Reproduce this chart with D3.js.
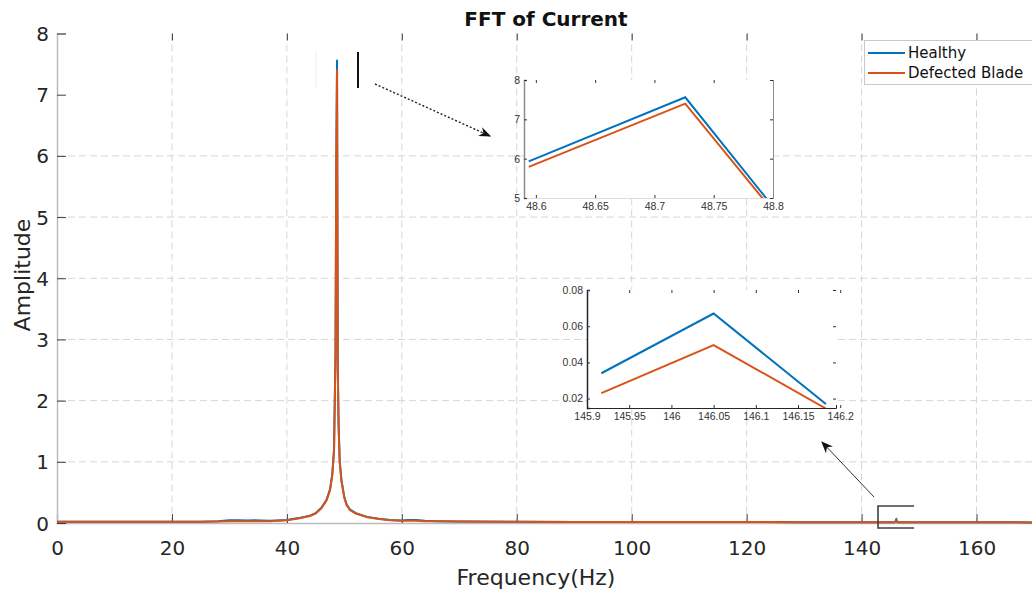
<!DOCTYPE html>
<html>
<head>
<meta charset="utf-8">
<script src="https://cdn.jsdelivr.net/npm/d3@7"></script>
<style>
  body { margin: 0; background: #fff; }
  svg { display: block; }
</style>
</head>
<body>
<svg id="chart" width="1032" height="597"></svg>
<script>
// spectrum samples (Hz) and amplitudes
const freq = [0, 5, 10, 15, 20, 25, 28, 30, 31.5, 33, 34.5, 35.5, 37, 40, 42, 44, 45, 46, 46.9, 47.5,
  47.9, 48.2, 48.461, 48.594, 48.726, 48.859, 49.0, 49.2, 49.5, 50.0, 50.4, 51, 52, 54, 56, 58, 60, 61, 62.5, 64,
  66, 70, 80, 90, 100, 110, 120, 130, 140, 145.785, 145.917, 146.05, 146.183, 146.316, 150, 160, 170];
const healthy = [0.02, 0.02, 0.02, 0.02, 0.02, 0.022, 0.028, 0.045, 0.045, 0.042, 0.045, 0.04, 0.035, 0.05, 0.08, 0.12, 0.16, 0.25, 0.38, 0.55,
  0.8, 1.2, 2.8, 5.93, 7.56, 2.56, 1.6, 1.0, 0.7, 0.42, 0.3, 0.22, 0.16, 0.1, 0.07, 0.05, 0.04, 0.05, 0.05, 0.035,
  0.03, 0.025, 0.02, 0.018, 0.016, 0.015, 0.015, 0.014, 0.014, 0.013, 0.034, 0.067, 0.017, 0.012, 0.012, 0.011, 0.01];
const defected = [0.02, 0.02, 0.02, 0.02, 0.02, 0.022, 0.025, 0.028, 0.03, 0.03, 0.03, 0.03, 0.03, 0.045, 0.075, 0.115, 0.155, 0.24, 0.37, 0.53,
  0.78, 1.17, 2.74, 5.79, 7.40, 2.49, 1.56, 0.98, 0.68, 0.41, 0.29, 0.21, 0.155, 0.095, 0.065, 0.045, 0.035, 0.035, 0.035, 0.03,
  0.028, 0.024, 0.02, 0.018, 0.016, 0.015, 0.015, 0.014, 0.014, 0.013, 0.023, 0.0496, 0.0145, 0.011, 0.011, 0.011, 0.01];

const seriesNames = ["Healthy", "Defected Blade"];
const seriesColors = ["#0072BD", "#D95319"];

const xTicks = [0, 20, 40, 60, 80, 100, 120, 140, 160];
const yTicks = [0, 1, 2, 3, 4, 5, 6, 7, 8];
const yGrid = [1, 2, 3, 4, 5, 6];

// zoom insets
const zoom1XTicks = [48.6, 48.65, 48.7, 48.75, 48.8];
const zoom1YTicks = [5, 6, 7, 8];
const zoom2XTicks = [145.9, 145.95, 146, 146.05, 146.1, 146.15, 146.2];
const zoom2YTicks = [0.02, 0.04, 0.06, 0.08];

const svg = d3.select('#chart');
const FONT = "'DejaVu Sans', sans-serif";

const x = d3.scaleLinear().domain([0, 170]).range([57, 1034]);
const y = d3.scaleLinear().domain([0, 8]).range([523, 33.5]);

const healthyPts = freq.map((f, i) => [f, healthy[i]]);
const defectedPts = freq.map((f, i) => [f, defected[i]]);

// grid
svg.append('g').selectAll('line').data(xTicks.filter(d => d > 0)).join('line')
  .attr('x1', d => x(d)).attr('x2', d => x(d))
  .attr('y1', y(8)).attr('y2', y(0))
  .attr('stroke', '#d6d6d6').attr('stroke-dasharray', '7,4');
svg.append('g').selectAll('line').data(yGrid).join('line')
  .attr('x1', x(0)).attr('x2', 1032)
  .attr('y1', d => y(d)).attr('y2', d => y(d))
  .attr('stroke', '#d6d6d6').attr('stroke-dasharray', '7,4');

// axes
const xAxis = svg.append('g').attr('transform', `translate(0,${y(0)})`)
  .call(d3.axisBottom(x).tickValues(xTicks).tickSize(-9).tickFormat(d3.format('d')));
xAxis.select('.domain').attr('stroke', '#bdbdbd').attr('stroke-width', 1.5);
xAxis.selectAll('.tick line').attr('stroke', '#404040');
xAxis.selectAll('.tick text').attr('y', 25).attr('dy', '0.35em')
  .attr('font-family', FONT).attr('font-size', 20).attr('fill', '#262626');

const xTop = svg.append('g').attr('transform', `translate(0,${y(8)})`)
  .call(d3.axisTop(x).tickValues(xTicks).tickSize(-7).tickFormat(''));
xTop.select('.domain').remove();
xTop.selectAll('.tick line').attr('stroke', '#404040');

const yAxis = svg.append('g').attr('transform', `translate(${x(0)},0)`)
  .call(d3.axisLeft(y).tickValues(yTicks).tickSize(-9));
yAxis.select('.domain').attr('stroke', '#bdbdbd').attr('stroke-width', 1.5);
yAxis.selectAll('.tick line').attr('stroke', '#404040');
yAxis.selectAll('.tick text').attr('x', -8).attr('dy', '0.35em')
  .attr('font-family', FONT).attr('font-size', 20).attr('fill', '#262626');

// main curves
const line = d3.line().x(d => x(d[0])).y(d => y(d[1]));
[healthyPts, defectedPts].forEach((pts, i) => {
  svg.append('path').datum(pts)
    .attr('d', line)
    .attr('fill', 'none')
    .attr('stroke', seriesColors[i])
    .attr('stroke-width', 2)
    .attr('stroke-linejoin', 'round');
});

// titles
svg.append('text').attr('x', 546).attr('y', 26).attr('text-anchor', 'middle')
  .attr('font-family', FONT).attr('font-weight', 'bold').attr('font-size', 20)
  .attr('fill', '#111').text('FFT of Current');
svg.append('text').attr('x', 536).attr('y', 585).attr('text-anchor', 'middle')
  .attr('font-family', FONT).attr('font-size', 22).attr('fill', '#262626').text('Frequency(Hz)');
svg.append('text').attr('transform', 'translate(30,275) rotate(-90)').attr('text-anchor', 'middle')
  .attr('font-family', FONT).attr('font-size', 22).attr('fill', '#262626').text('Amplitude');

// legend
const leg = svg.append('g');
leg.append('rect').attr('x', 864.5).attr('y', 40.5).attr('width', 170).attr('height', 44)
  .attr('fill', '#fff').attr('stroke', '#c8c8c8');
seriesNames.forEach((name, i) => {
  const ly = 53 + i * 20;
  leg.append('line').attr('x1', 868).attr('x2', 905).attr('y1', ly).attr('y2', ly)
    .attr('stroke', seriesColors[i]).attr('stroke-width', 2);
  leg.append('text').attr('x', 908).attr('y', ly).attr('dy', '0.35em')
    .attr('font-family', FONT).attr('font-size', 15).attr('fill', '#111').text(name);
});

// arrow markers
const defs = svg.append('defs');
defs.append('marker').attr('id', 'arrow').attr('viewBox', '0 0 10 10')
  .attr('refX', 9).attr('refY', 5).attr('markerWidth', 12).attr('markerHeight', 12)
  .attr('markerUnits', 'userSpaceOnUse').attr('orient', 'auto')
  .append('path').attr('d', 'M0,1 L10,5 L0,9 L3,5 Z').attr('fill', '#111');

// inset builder
function inset(id, box, xDom, yDom, xt, yt, fmtX, fmtY, opts) {
  const ix = d3.scaleLinear().domain(xDom).range([box.x0, box.x1]);
  const iy = d3.scaleLinear().domain(yDom).range([box.y1, box.y0]);
  const g = svg.append('g');
  g.append('rect').attr('x', box.x0).attr('y', box.y0)
    .attr('width', box.x1 - box.x0).attr('height', box.y1 - box.y0).attr('fill', '#fff');
  defs.append('clipPath').attr('id', id).append('rect')
    .attr('x', box.x0).attr('y', box.y0).attr('width', box.x1 - box.x0).attr('height', box.y1 - box.y0);

  const bx = g.append('g').attr('transform', `translate(0,${box.y1})`)
    .call(d3.axisBottom(ix).tickValues(xt).tickSize(-3).tickPadding(5).tickFormat(fmtX));
  const tx = g.append('g').attr('transform', `translate(0,${box.y0})`)
    .call(d3.axisTop(ix).tickValues(xt).tickSize(-3).tickFormat(''));
  const ly = g.append('g').attr('transform', `translate(${box.x0},0)`)
    .call(d3.axisLeft(iy).tickValues(yt).tickSize(-3).tickPadding(4).tickFormat(fmtY));
  const ry = g.append('g').attr('transform', `translate(${box.x1},0)`)
    .call(d3.axisRight(iy).tickValues(yt).tickSize(-3).tickFormat(''));
  [bx, tx, ly, ry].forEach(a => {
    a.selectAll('.tick line').attr('stroke', '#333');
    a.selectAll('.tick text').attr('font-family', "'Liberation Sans', Arial, sans-serif")
      .attr('font-size', 10.5).attr('fill', '#333');
  });
  bx.select('.domain').attr('stroke', opts.bottom);
  ly.select('.domain').attr('stroke', opts.left).attr('stroke-width', 1.5);
  tx.select('.domain').attr('stroke', opts.top);
  ry.select('.domain').attr('stroke', opts.right);

  const il = d3.line().x(d => ix(d[0])).y(d => iy(d[1]));
  [healthyPts, defectedPts].forEach((pts, i) => {
    g.append('path').datum(pts.filter(d => d[0] >= opts.from && d[0] <= opts.to))
      .attr('clip-path', `url(#${id})`)
      .attr('d', il).attr('fill', 'none')
      .attr('stroke', seriesColors[i]).attr('stroke-width', 2);
  });
}

inset('clip1', {x0: 524, x1: 773, y0: 80, y1: 198}, [48.59, 48.8], [5, 8],
  zoom1XTicks, zoom1YTicks, d3.format(''), d3.format('d'),
  {bottom: '#dddddd', left: '#8c8c8c', top: 'none', right: '#8c8c8c', from: 48.59, to: 48.9});
inset('clip2', {x0: 587, x1: 836, y0: 290, y1: 408}, [145.9, 146.195], [0.0148, 0.08],
  zoom2XTicks, zoom2YTicks, d3.format(''), d3.format('.2f'),
  {bottom: '#262626', left: '#262626', top: 'none', right: 'none', from: 145.9, to: 146.2});

// zoom marker near main peak and dotted arrow to inset 1
svg.append('line').attr('x1', 316).attr('x2', 316).attr('y1', 52).attr('y2', 88)
  .attr('stroke', '#eeeeee').attr('stroke-width', 1);
svg.append('line').attr('x1', 358).attr('x2', 358).attr('y1', 52).attr('y2', 88)
  .attr('stroke', '#111').attr('stroke-width', 2);
svg.append('line').attr('x1', 375).attr('y1', 84).attr('x2', 490).attr('y2', 136)
  .attr('stroke', '#222').attr('stroke-width', 1.4).attr('stroke-dasharray', '2,2')
  .attr('marker-end', 'url(#arrow)');

// bracket round the 146 Hz bump and arrow to inset 2
svg.append('path').attr('d', 'M914,506 H878 V528 H914')
  .attr('fill', 'none').attr('stroke', '#404040').attr('stroke-width', 1.6);
svg.append('line').attr('x1', 874).attr('y1', 497).attr('x2', 822).attr('y2', 442)
  .attr('stroke', '#333').attr('stroke-width', 1)
  .attr('marker-end', 'url(#arrow)');
</script>
</body>
</html>
